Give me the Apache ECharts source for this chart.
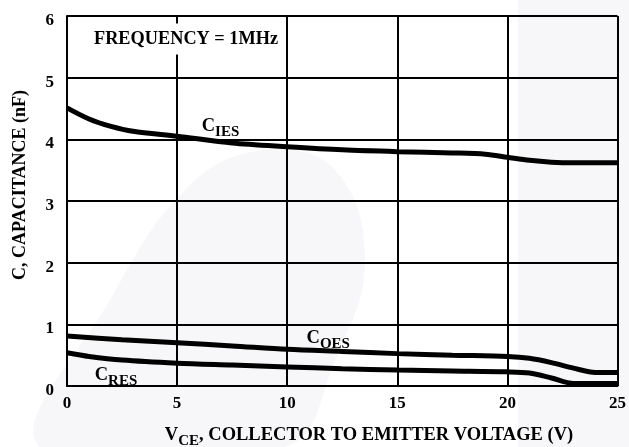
<!DOCTYPE html>
<html>
<head>
<meta charset="utf-8">
<script src="https://cdn.jsdelivr.net/npm/echarts@6/dist/echarts.min.js"></script>
<style>
    html, body { margin: 0; padding: 0; background: #fff; }
    #main { width: 629px; height: 447px; }
</style>
</head>
<body>
<div id="main"></div>
<script>
// capacitance vs VCE (V, nF)
const ciesV = [0, 1, 2, 3, 5, 7.5, 10, 12.5, 15, 17.5, 19, 20, 21, 22, 23, 25]
const ciesC = [4.51, 4.33, 4.21, 4.13, 4.05, 3.94, 3.88, 3.83, 3.80, 3.78, 3.76, 3.71, 3.66, 3.63, 3.62, 3.62]

const coesV = [0, 2.5, 5, 7.5, 10, 12.5, 15, 17.5, 20, 21, 22, 23, 24, 25]
const coesC = [0.81, 0.75, 0.70, 0.65, 0.595, 0.56, 0.525, 0.50, 0.48, 0.45, 0.38, 0.29, 0.22, 0.22]

const cresV = [0, 1, 2.5, 5, 7.5, 10, 12.5, 15, 17.5, 20, 21, 22, 23, 25]
const cresC = [0.54, 0.48, 0.42, 0.37, 0.34, 0.31, 0.28, 0.26, 0.245, 0.23, 0.21, 0.13, 0.04, 0.04]

// curve labels: [main, subscript, V, C] (anchor = left edge / baseline of the big C)
const curveLabels = [
    ['C', 'IES', 6.12, 4.13],
    ['C', 'OES', 10.88, 0.69],
    ['C', 'RES', 1.26, 0.09],
]

const FONT = '"Liberation Serif", "Times New Roman", serif'

const zip = (xs, ys) => xs.map((x, i) => [x, ys[i]])

// subscript: everything bottom aligned, main text lifted by its bottom padding
const rich = {
    m: { fontFamily: FONT, fontWeight: 'bold', fontSize: 18.5, verticalAlign: 'bottom', padding: [0, 0, 4, 0], color: '#000' },
    s: { fontFamily: FONT, fontWeight: 'bold', fontSize: 15, verticalAlign: 'bottom', color: '#000' },
}

var chartDom = document.getElementById('main')
var myChart = echarts.init(chartDom)

const lineSeries = (data) => ({
    type: 'line',
    data: data,
    smooth: 0.3,
    showSymbol: false,
    silent: true,
    lineStyle: { color: '#000', width: 5 },
    z: 5,
})

var option = {
    animation: false,
    backgroundColor: '#fff',
    grid: { left: 67, top: 16, width: 554, height: 370 },
    xAxis: {
        type: 'value',
        min: 0,
        max: 25,
        interval: 5,
        axisLine: { show: true, lineStyle: { color: '#000', width: 2 } },
        axisTick: { show: false },
        splitLine: { show: true, lineStyle: { color: '#000', width: 2 } },
        axisLabel: { color: '#000', fontFamily: FONT, fontWeight: 'bold', fontSize: 17, margin: 9 },
    },
    yAxis: {
        type: 'value',
        min: 0,
        max: 6,
        interval: 1,
        axisLine: { show: true, lineStyle: { color: '#000', width: 2 } },
        axisTick: { show: false },
        splitLine: { show: true, lineStyle: { color: '#000', width: 2 } },
        axisLabel: {
            margin: 13,
            formatter: (v) => '{t|' + v + '}',
            rich: { t: { color: '#000', fontFamily: FONT, fontWeight: 'bold', fontSize: 17, padding: [9, 0, 0, 0] } },
        },
    },
    series: [
        lineSeries(zip(ciesV, ciesC)),
        lineSeries(zip(coesV, coesC)),
        lineSeries(zip(cresV, cresC)),
    ],
}
myChart.setOption(option)

// faint watermark behind the grid, axis names, note box, curve labels
let graphics = [
    { type: 'rect', z: -10, silent: true, shape: { x: 518, y: 0, width: 111, height: 447 }, style: { fill: '#f7f6f9' } },
    {
        type: 'polygon', z: -10, silent: true,
        shape: {
            points: [[40, 447], [110, 300], [190, 185], [265, 150], [335, 170], [365, 260], [335, 360], [285, 447]],
            smooth: 0.4,
        },
        style: { fill: '#f7f6f9' },
    },
    {
        type: 'text', z: 50, x: 91, y: 39,
        style: {
            text: 'FREQUENCY = 1MHz', fontFamily: FONT, fontWeight: 'bold', fontSize: 18.3, fill: '#000',
            verticalAlign: 'middle', backgroundColor: '#fff', padding: [7, 3, 6, 3],
        },
    },
    {
        type: 'text', z: 50, x: 20, y: 185, rotation: Math.PI / 2,
        style: {
            text: 'C, CAPACITANCE (nF)', fontFamily: FONT, fontWeight: 'bold', fontSize: 18, fill: '#000',
            align: 'center', verticalAlign: 'middle',
        },
    },
    {
        type: 'text', z: 50, x: 369, y: 449,
        style: {
            text: '{m|V}{s|CE}{m|, COLLECTOR TO EMITTER VOLTAGE (V)}', rich: rich,
            align: 'center', verticalAlign: 'bottom',
        },
    },
]
curveLabels.forEach(([main, sub, v, c]) => {
    let p = myChart.convertToPixel({ gridIndex: 0 }, [v, c])
    graphics.push({
        type: 'text', z: 50, x: p[0], y: p[1] + 8,
        style: { text: '{m|' + main + '}{s|' + sub + '}', rich: rich, align: 'left', verticalAlign: 'bottom' },
    })
})
myChart.setOption({ graphic: graphics })
</script>
</body>
</html>
